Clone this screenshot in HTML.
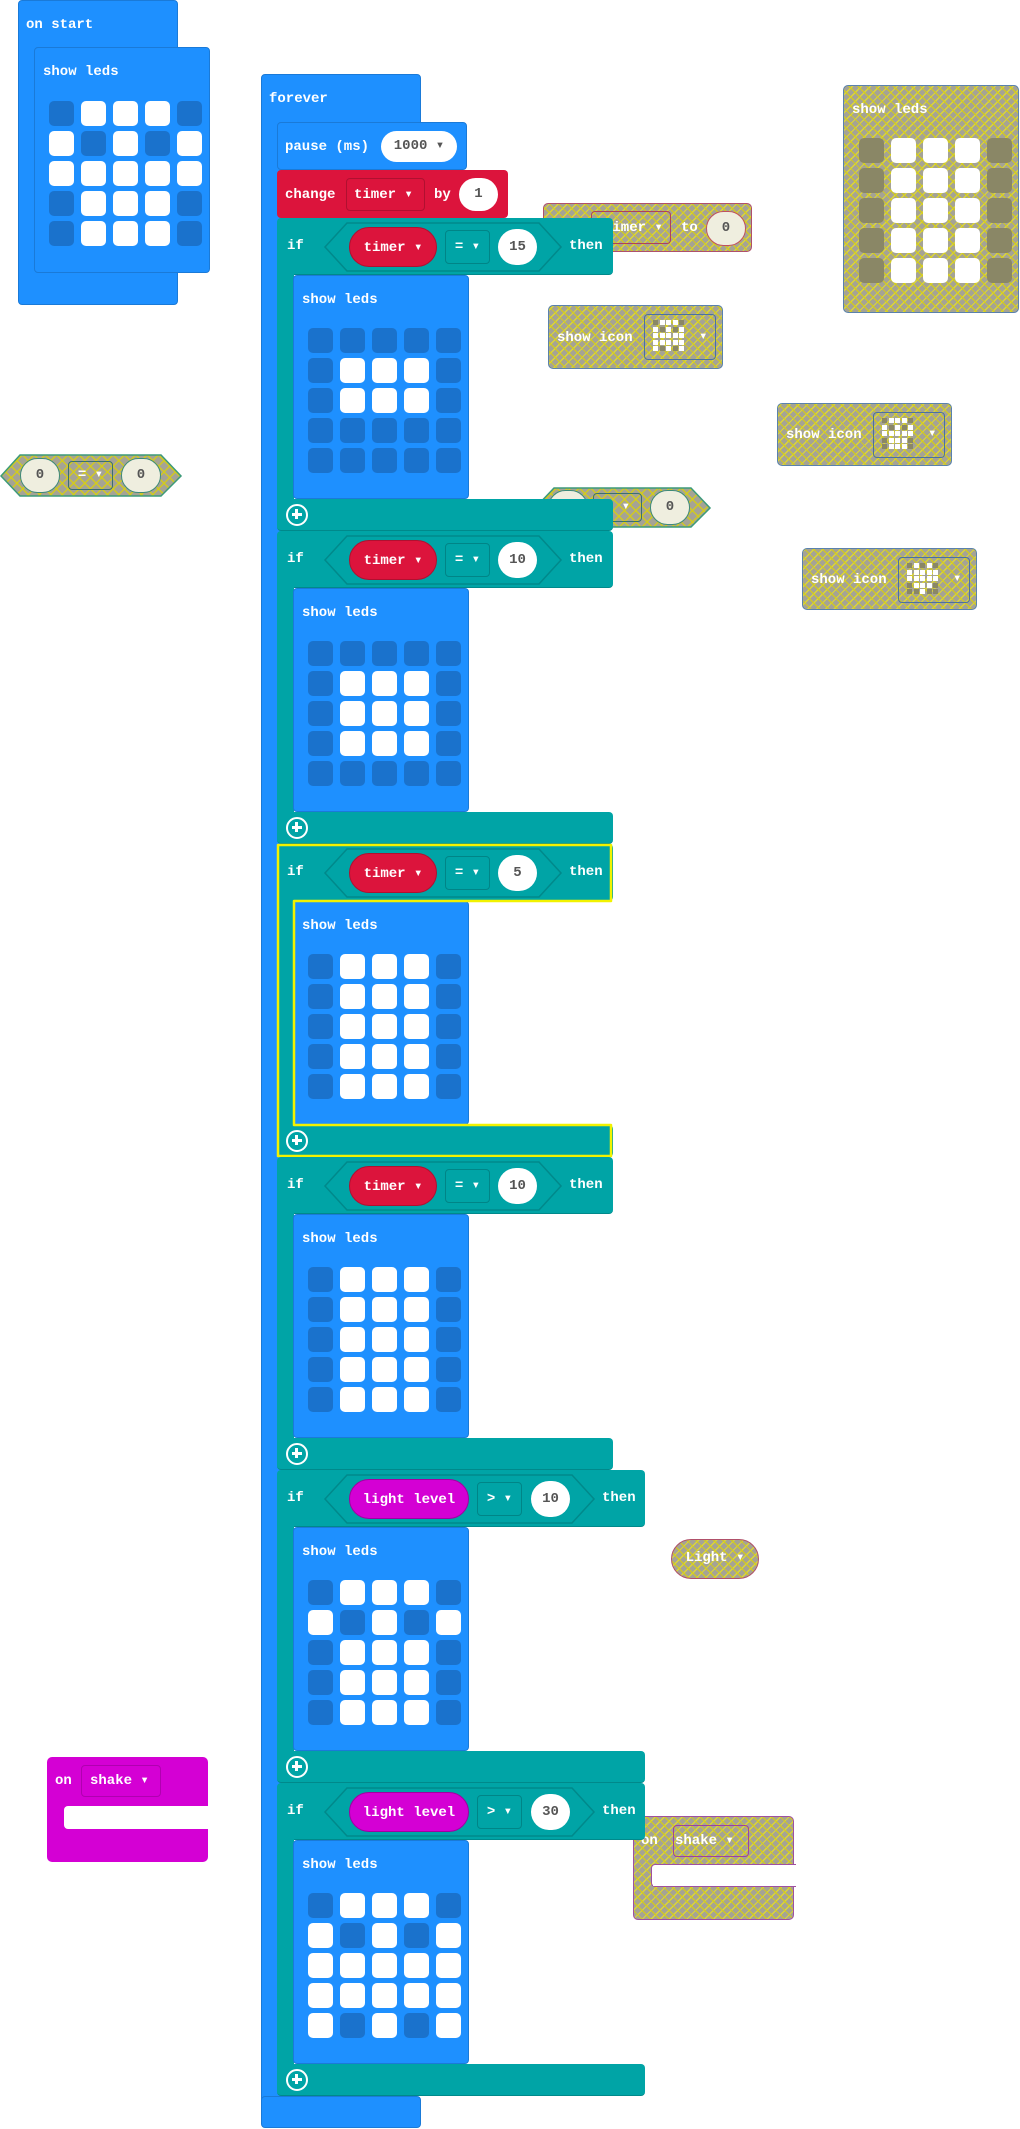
<!DOCTYPE html>
<html><head><meta charset="utf-8"><style>
*{margin:0;padding:0;box-sizing:border-box}
body{width:1020px;height:2129px;background:#fff;position:relative;overflow:hidden;font-family:"Liberation Mono",monospace;font-weight:bold;font-size:14px;color:#fff}
.a{position:absolute}
.blue{background:#1e90ff;border:1px solid #1a7ad8;border-radius:4px}
.tl{position:absolute;background:#00a4a6}
.red{background:#dc143c}
.t{position:absolute;white-space:nowrap;line-height:16px}
.grid{position:absolute;display:grid;grid-template-columns:repeat(5,25px);grid-auto-rows:25px;column-gap:7px;row-gap:5px}
.grid i{display:block;border-radius:5px;background:#1a72cc}
.grid i.w{background:#fff}
.g{background:repeating-linear-gradient(45deg,transparent 0 5px,rgba(214,206,20,.85) 5px 6.3px),repeating-linear-gradient(-45deg,#a5a395 0 5px,rgba(214,206,20,.85) 5px 6.3px);border:1.5px solid #5a82ac;border-radius:5px}
.grid.gg i{background:#8a8766}
.grid.gg i.w{background:#fff}
.oval{position:absolute;border-radius:20px;text-align:center}
.val{background:#fff;color:#555;font-weight:bold}
.box{position:absolute;border:1px solid #008587;border-radius:4px;text-align:center}
.mini{position:absolute;display:grid;grid-template-columns:repeat(5,5px);grid-auto-rows:5px;gap:1.5px}
.mini i{display:block;background:#8a8766}
.mini i.w{background:#fff}
.plus{position:absolute;width:22px;height:22px;border:2.5px solid #fff;border-radius:50%}
.plus:before{content:"";position:absolute;left:3.5px;top:6.5px;width:10px;height:3px;background:#fff}
.plus:after{content:"";position:absolute;left:7px;top:3px;width:3px;height:10px;background:#fff}
</style></head><body>

<!-- ghost blocks -->
<div class="a g" style="left:843px;top:85px;width:176px;height:228px;">
 <div class="t" style="left:8px;top:16px">show leds</div>
 <div class="grid gg" style="left:15px;top:52px"><i></i><i class=w></i><i class=w></i><i class=w></i><i></i><i></i><i class=w></i><i class=w></i><i class=w></i><i></i><i></i><i class=w></i><i class=w></i><i class=w></i><i></i><i></i><i class=w></i><i class=w></i><i class=w></i><i></i><i></i><i class=w></i><i class=w></i><i class=w></i><i></i></div>
</div>

<div class="a g" style="left:543px;top:203px;width:209px;height:49px;border-color:#b0506a">
 <div class="a" style="left:47px;top:7px;width:80px;height:33px;border:1.5px solid #b0405a;border-radius:4px"></div>
 <div class="t" style="left:60px;top:16px">timer ▾</div>
 <div class="t" style="left:137px;top:16px">to</div>
 <div class="oval" style="left:162px;top:7px;width:40px;height:35px;background:#efeedf;border:1.5px solid #c05060;color:#555;line-height:32px">0</div>
</div>

<div class="a g" style="left:548px;top:305px;width:175px;height:64px">
 <div class="t" style="left:8px;top:24px">show icon</div>
 <div class="a" style="left:95px;top:8px;width:72px;height:46px;border:1.5px solid #4a72a0;border-radius:4px"></div>
 <div class="mini" style="left:104px;top:14px"><i></i><i class=w></i><i class=w></i><i class=w></i><i></i><i class=w></i><i></i><i class=w></i><i></i><i class=w></i><i class=w></i><i class=w></i><i class=w></i><i class=w></i><i class=w></i><i class=w></i><i class=w></i><i class=w></i><i class=w></i><i class=w></i><i class=w></i><i></i><i class=w></i><i></i><i class=w></i></div>
 <div class="t" style="left:150px;top:23px">▾</div>
</div>

<div class="a g" style="left:777px;top:403px;width:175px;height:63px">
 <div class="t" style="left:8px;top:23px">show icon</div>
 <div class="a" style="left:95px;top:8px;width:72px;height:46px;border:1.5px solid #4a72a0;border-radius:4px"></div>
 <div class="mini" style="left:104px;top:14px"><i></i><i class=w></i><i class=w></i><i class=w></i><i></i><i class=w></i><i></i><i class=w></i><i></i><i class=w></i><i class=w></i><i class=w></i><i class=w></i><i class=w></i><i class=w></i><i></i><i class=w></i><i class=w></i><i class=w></i><i></i><i></i><i class=w></i><i class=w></i><i class=w></i><i></i></div>
 <div class="t" style="left:150px;top:22px">▾</div>
</div>

<div class="a g" style="left:802px;top:548px;width:175px;height:62px">
 <div class="t" style="left:8px;top:23px">show icon</div>
 <div class="a" style="left:95px;top:8px;width:72px;height:46px;border:1.5px solid #4a72a0;border-radius:4px"></div>
 <div class="mini" style="left:104px;top:14px"><i></i><i class=w></i><i></i><i class=w></i><i></i><i class=w></i><i class=w></i><i class=w></i><i class=w></i><i class=w></i><i class=w></i><i class=w></i><i class=w></i><i class=w></i><i class=w></i><i></i><i class=w></i><i class=w></i><i class=w></i><i></i><i></i><i></i><i class=w></i><i></i><i></i></div>
 <div class="t" style="left:150px;top:22px">▾</div>
</div>

<!-- = 0 ghost right -->
<svg class="a" style="left:534px;top:487px" width="180" height="42"><defs><pattern id="hp" width="8" height="8" patternUnits="userSpaceOnUse" patternTransform="rotate(45)"><rect width="8" height="8" fill="#a5a395"/><rect width="1.3" height="8" fill="#d6ce14"/><rect width="8" height="1.3" fill="#d6ce14"/></pattern></defs><polygon points="1,21 20,1 157,1 176,21 157,40 20,40" fill="url(#hp)" stroke="#3d9a7a" stroke-width="1.5"/></svg>
<div class="oval" style="left:548px;top:490px;width:40px;height:35px;background:#efeedf;border:1.5px solid #3d8a7a;color:#555;line-height:32px">0</div>
<div class="box" style="left:593px;top:493px;width:49px;height:29px;border-color:#3a7070;line-height:27px">= ▾</div>
<div class="oval" style="left:650px;top:490px;width:40px;height:35px;background:#efeedf;border:1.5px solid #3d8a7a;color:#555;line-height:32px">0</div>

<!-- = 0 ghost left -->
<svg class="a" style="left:0px;top:454px" width="184" height="44"><polygon points="1,22 20,1 161,1 181,22 161,42 20,42" fill="url(#hp)" stroke="#3d9a7a" stroke-width="1.5"/></svg>
<div class="oval" style="left:20px;top:458px;width:40px;height:35px;background:#efeedf;border:1.5px solid #3d8a7a;color:#555;line-height:32px">0</div>
<div class="box" style="left:68px;top:461px;width:45px;height:29px;border-color:#3a7070;line-height:27px">= ▾</div>
<div class="oval" style="left:121px;top:458px;width:40px;height:35px;background:#efeedf;border:1.5px solid #3d8a7a;color:#555;line-height:32px">0</div>

<!-- Light ghost -->
<div class="oval g" style="left:671px;top:1539px;width:88px;height:40px;border-radius:20px;border-color:#b0506a;line-height:37px">Light ▾</div>

<!-- on shake ghost -->
<div class="a g" style="left:633px;top:1816px;width:161px;height:104px;border-color:#a050a0"></div>
<div class="a" style="left:651px;top:1864px;width:145px;height:23px;background:#fff;border:1.5px solid #a050a0;border-right:none;border-radius:4px 0 0 4px"></div>
<div class="a" style="left:653px;top:1865.5px;width:143px;height:20px;background:#fff"></div>
<div class="a" style="left:673px;top:1825px;width:76px;height:32px;border:1.5px solid #a040a0;border-radius:4px"></div>
<div class="t" style="left:641px;top:1833px">on</div>
<div class="t" style="left:675px;top:1833px">shake ▾</div>

<!-- on shake -->
<div class="a" style="left:47px;top:1757px;width:161px;height:105px;background:#d400d4;border-radius:5px"></div>
<div class="a" style="left:64px;top:1806px;width:146px;height:23px;background:#fff;border-radius:4px 0 0 4px"></div>
<div class="a" style="left:81px;top:1765px;width:80px;height:32px;border:1px solid #b000b0;border-radius:4px"></div>
<div class="t" style="left:55px;top:1773px">on</div>
<div class="t" style="left:90px;top:1773px">shake ▾</div>

<!-- on start -->
<div class="a blue" style="left:18px;top:0px;width:160px;height:305px"></div>
<div class="t" style="left:26px;top:17px">on start</div>
<div class="a blue" style="left:34px;top:47px;width:176px;height:226px">
 <div class="t" style="left:8px;top:16px">show leds</div>
 <div class="grid" style="left:14px;top:53px"><i></i><i class=w></i><i class=w></i><i class=w></i><i></i><i class=w></i><i></i><i class=w></i><i></i><i class=w></i><i class=w></i><i class=w></i><i class=w></i><i class=w></i><i class=w></i><i></i><i class=w></i><i class=w></i><i class=w></i><i></i><i></i><i class=w></i><i class=w></i><i class=w></i><i></i></div>
</div>

<!-- forever -->
<div class="a blue" style="left:261px;top:74px;width:160px;height:54px"></div>
<div class="a" style="left:261px;top:100px;width:20px;height:2010px;background:#1e90ff;border-left:1px solid #1a7ad8"></div>
<div class="a blue" style="left:261px;top:2096px;width:160px;height:32px"></div>
<div class="t" style="left:269px;top:91px">forever</div>

<div class="a blue" style="left:277px;top:122px;width:190px;height:48px"></div>
<div class="t" style="left:285px;top:139px">pause (ms)</div>
<div class="oval val" style="left:381px;top:131px;width:76px;height:31px;line-height:31px">1000 ▾</div>

<div class="a red" style="left:277px;top:170px;width:231px;height:48px;border-radius:4px"></div>
<div class="t" style="left:285px;top:187px">change</div>
<div class="a" style="left:346px;top:178px;width:79px;height:33px;border:1px solid #b01030;border-radius:4px"></div>
<div class="t" style="left:354px;top:187px">timer ▾</div>
<div class="t" style="left:434px;top:187px">by</div>
<div class="oval val" style="left:459px;top:178px;width:39px;height:33px;line-height:33px">1</div>

<!-- if1 T=218 -->
<div class="tl" style="left:277px;top:218px;width:336px;height:57px;border-radius:4px 4px 4px 0;border-bottom:1px solid #00898b"></div>
<div class="tl" style="left:277px;top:270px;width:17px;height:240px"></div>
<div class="tl" style="left:277px;top:499px;width:336px;height:32px;border-radius:0 4px 4px 4px;border-bottom:1px solid #00898b"></div>
<svg class="a" style="left:277px;top:218px" width="340" height="60"><polygon points="48,29 70,5 262,5 284,29 262,53 70,53" fill="#00a4a6" stroke="#00898b" stroke-width="1.5"/></svg>
<div class="t" style="left:287px;top:238px">if</div>
<div class="oval red" style="left:349px;top:227px;width:88px;height:40px;line-height:40px;border:1px solid #b01030">timer ▾</div>
<div class="box" style="left:445px;top:230px;width:45px;height:34px;line-height:32px">= ▾</div>
<div class="oval val" style="left:498px;top:229px;width:39px;height:36px;line-height:36px">15</div>
<div class="t" style="left:569px;top:238px">then</div>
<div class="a blue" style="left:293px;top:275px;width:176px;height:224px">
 <div class="t" style="left:8px;top:16px">show leds</div>
 <div class="grid" style="left:14px;top:52px"><i></i><i></i><i></i><i></i><i></i><i></i><i class=w></i><i class=w></i><i class=w></i><i></i><i></i><i class=w></i><i class=w></i><i class=w></i><i></i><i></i><i></i><i></i><i></i><i></i><i></i><i></i><i></i><i></i><i></i></div>
</div>
<div class="plus" style="left:286px;top:504px"></div>

<!-- if2 T=531 -->
<div class="tl" style="left:277px;top:531px;width:336px;height:57px;border-radius:4px 4px 4px 0;border-bottom:1px solid #00898b"></div>
<div class="tl" style="left:277px;top:583px;width:17px;height:240px"></div>
<div class="tl" style="left:277px;top:812px;width:336px;height:32px;border-radius:0 4px 4px 4px;border-bottom:1px solid #00898b"></div>
<svg class="a" style="left:277px;top:531px" width="340" height="60"><polygon points="48,29 70,5 262,5 284,29 262,53 70,53" fill="#00a4a6" stroke="#00898b" stroke-width="1.5"/></svg>
<div class="t" style="left:287px;top:551px">if</div>
<div class="oval red" style="left:349px;top:540px;width:88px;height:40px;line-height:40px;border:1px solid #b01030">timer ▾</div>
<div class="box" style="left:445px;top:543px;width:45px;height:34px;line-height:32px">= ▾</div>
<div class="oval val" style="left:498px;top:542px;width:39px;height:36px;line-height:36px">10</div>
<div class="t" style="left:569px;top:551px">then</div>
<div class="a blue" style="left:293px;top:588px;width:176px;height:224px">
 <div class="t" style="left:8px;top:16px">show leds</div>
 <div class="grid" style="left:14px;top:52px"><i></i><i></i><i></i><i></i><i></i><i></i><i class=w></i><i class=w></i><i class=w></i><i></i><i></i><i class=w></i><i class=w></i><i class=w></i><i></i><i></i><i class=w></i><i class=w></i><i class=w></i><i></i><i></i><i></i><i></i><i></i><i></i></div>
</div>
<div class="plus" style="left:286px;top:817px"></div>

<!-- if3 T=844 -->
<div class="tl" style="left:277px;top:844px;width:336px;height:57px;border-radius:4px 4px 4px 0"></div>
<div class="tl" style="left:277px;top:896px;width:17px;height:240px"></div>
<div class="tl" style="left:277px;top:1125px;width:336px;height:32px;border-radius:0 4px 4px 4px"></div>
<svg class="a" style="left:277px;top:844px" width="340" height="60"><polygon points="48,29 70,5 262,5 284,29 262,53 70,53" fill="#00a4a6" stroke="#00898b" stroke-width="1.5"/></svg>
<div class="t" style="left:287px;top:864px">if</div>
<div class="oval red" style="left:349px;top:853px;width:88px;height:40px;line-height:40px;border:1px solid #b01030">timer ▾</div>
<div class="box" style="left:445px;top:856px;width:45px;height:34px;line-height:32px">= ▾</div>
<div class="oval val" style="left:498px;top:855px;width:39px;height:36px;line-height:36px">5</div>
<div class="t" style="left:569px;top:864px">then</div>
<div class="a blue" style="left:293px;top:901px;width:176px;height:224px">
 <div class="t" style="left:8px;top:16px">show leds</div>
 <div class="grid" style="left:14px;top:52px"><i></i><i class=w></i><i class=w></i><i class=w></i><i></i><i></i><i class=w></i><i class=w></i><i class=w></i><i></i><i></i><i class=w></i><i class=w></i><i class=w></i><i></i><i></i><i class=w></i><i class=w></i><i class=w></i><i></i><i></i><i class=w></i><i class=w></i><i class=w></i><i></i></div>
</div>
<div class="plus" style="left:286px;top:1130px"></div>
<svg class="a" style="left:274px;top:841px" width="345" height="322"><path d="M4,4 H337 V60 H20 V284 H337 V315 H4 Z" fill="none" stroke="#f2f200" stroke-width="2.5" stroke-linejoin="round"/></svg>

<!-- if4 T=1157 -->
<div class="tl" style="left:277px;top:1157px;width:336px;height:57px;border-radius:4px 4px 4px 0;border-bottom:1px solid #00898b"></div>
<div class="tl" style="left:277px;top:1209px;width:17px;height:240px"></div>
<div class="tl" style="left:277px;top:1438px;width:336px;height:32px;border-radius:0 4px 4px 4px;border-bottom:1px solid #00898b"></div>
<svg class="a" style="left:277px;top:1157px" width="340" height="60"><polygon points="48,29 70,5 262,5 284,29 262,53 70,53" fill="#00a4a6" stroke="#00898b" stroke-width="1.5"/></svg>
<div class="t" style="left:287px;top:1177px">if</div>
<div class="oval red" style="left:349px;top:1166px;width:88px;height:40px;line-height:40px;border:1px solid #b01030">timer ▾</div>
<div class="box" style="left:445px;top:1169px;width:45px;height:34px;line-height:32px">= ▾</div>
<div class="oval val" style="left:498px;top:1168px;width:39px;height:36px;line-height:36px">10</div>
<div class="t" style="left:569px;top:1177px">then</div>
<div class="a blue" style="left:293px;top:1214px;width:176px;height:224px">
 <div class="t" style="left:8px;top:16px">show leds</div>
 <div class="grid" style="left:14px;top:52px"><i></i><i class=w></i><i class=w></i><i class=w></i><i></i><i></i><i class=w></i><i class=w></i><i class=w></i><i></i><i></i><i class=w></i><i class=w></i><i class=w></i><i></i><i></i><i class=w></i><i class=w></i><i class=w></i><i></i><i></i><i class=w></i><i class=w></i><i class=w></i><i></i></div>
</div>
<div class="plus" style="left:286px;top:1443px"></div>

<!-- if5 T=1470 light -->
<div class="tl" style="left:277px;top:1470px;width:368px;height:57px;border-radius:4px 4px 4px 0;border-bottom:1px solid #00898b"></div>
<div class="tl" style="left:277px;top:1522px;width:17px;height:240px"></div>
<div class="tl" style="left:277px;top:1751px;width:368px;height:32px;border-radius:0 4px 4px 4px;border-bottom:1px solid #00898b"></div>
<svg class="a" style="left:277px;top:1470px" width="370" height="60"><polygon points="48,29 70,5 295,5 317,29 295,53 70,53" fill="#00a4a6" stroke="#00898b" stroke-width="1.5"/></svg>
<div class="t" style="left:287px;top:1490px">if</div>
<div class="oval" style="left:349px;top:1479px;width:120px;height:40px;line-height:40px;background:#d400d4;border:1px solid #a000a0">light level</div>
<div class="box" style="left:477px;top:1482px;width:45px;height:34px;line-height:32px">&gt; ▾</div>
<div class="oval val" style="left:531px;top:1481px;width:39px;height:36px;line-height:36px">10</div>
<div class="t" style="left:602px;top:1490px">then</div>
<div class="a blue" style="left:293px;top:1527px;width:176px;height:224px">
 <div class="t" style="left:8px;top:16px">show leds</div>
 <div class="grid" style="left:14px;top:52px"><i></i><i class=w></i><i class=w></i><i class=w></i><i></i><i class=w></i><i></i><i class=w></i><i></i><i class=w></i><i></i><i class=w></i><i class=w></i><i class=w></i><i></i><i></i><i class=w></i><i class=w></i><i class=w></i><i></i><i></i><i class=w></i><i class=w></i><i class=w></i><i></i></div>
</div>
<div class="plus" style="left:286px;top:1756px"></div>

<!-- if6 T=1783 light -->
<div class="tl" style="left:277px;top:1783px;width:368px;height:57px;border-radius:4px 4px 4px 0;border-bottom:1px solid #00898b"></div>
<div class="tl" style="left:277px;top:1835px;width:17px;height:240px"></div>
<div class="tl" style="left:277px;top:2064px;width:368px;height:32px;border-radius:0 4px 4px 4px;border-bottom:1px solid #00898b"></div>
<svg class="a" style="left:277px;top:1783px" width="370" height="60"><polygon points="48,29 70,5 295,5 317,29 295,53 70,53" fill="#00a4a6" stroke="#00898b" stroke-width="1.5"/></svg>
<div class="t" style="left:287px;top:1803px">if</div>
<div class="oval" style="left:349px;top:1792px;width:120px;height:40px;line-height:40px;background:#d400d4;border:1px solid #a000a0">light level</div>
<div class="box" style="left:477px;top:1795px;width:45px;height:34px;line-height:32px">&gt; ▾</div>
<div class="oval val" style="left:531px;top:1794px;width:39px;height:36px;line-height:36px">30</div>
<div class="t" style="left:602px;top:1803px">then</div>
<div class="a blue" style="left:293px;top:1840px;width:176px;height:224px">
 <div class="t" style="left:8px;top:16px">show leds</div>
 <div class="grid" style="left:14px;top:52px"><i></i><i class=w></i><i class=w></i><i class=w></i><i></i><i class=w></i><i></i><i class=w></i><i></i><i class=w></i><i class=w></i><i class=w></i><i class=w></i><i class=w></i><i class=w></i><i class=w></i><i class=w></i><i class=w></i><i class=w></i><i class=w></i><i class=w></i><i></i><i class=w></i><i></i><i class=w></i></div>
</div>
<div class="plus" style="left:286px;top:2069px"></div>

</body></html>
